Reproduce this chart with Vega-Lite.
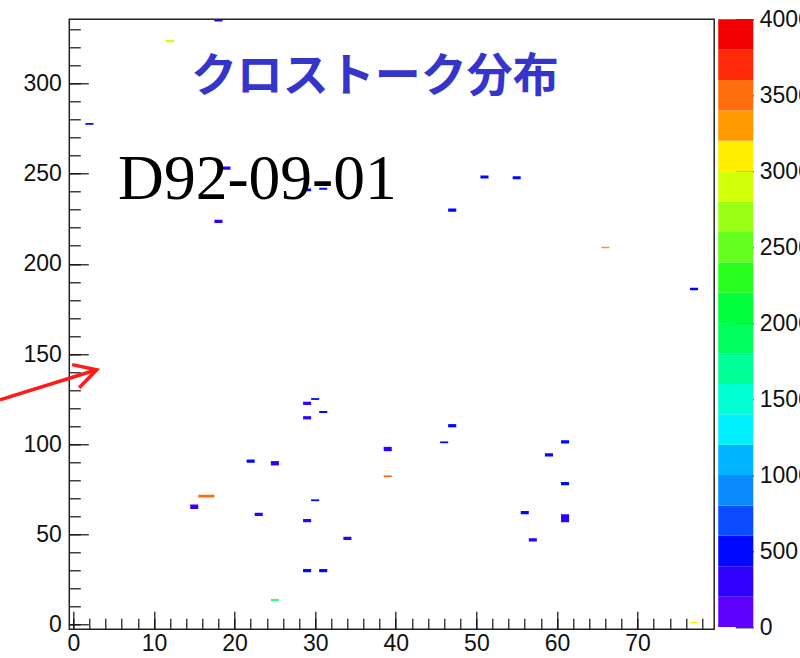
{
  "$schema": "https://vega.github.io/schema/vega-lite/v6.json",
  "autosize": {"type": "none"},
  "padding": {"left": 69.3, "top": 19.3, "right": 47, "bottom": 28.7},
  "width": 684,
  "height": 610,
  "background": "white",
  "config": {
    "view": {"stroke": null},
    "axis": {"labelFont": "Liberation Sans", "labelFontSize": 23, "labelColor": "#111", "tickColor": "#111", "tickWidth": 1.2, "domain": false, "grid": false, "title": null}
  },
  "datasets": {
    "cells": [
      {"x0": 28.5, "x1": 29.5, "y0": 121.8, "y1": 123.6, "v": 300},
      {"x0": 29.5, "x1": 30.5, "y0": 124.6, "y1": 125.6, "v": 450},
      {"x0": 30.5, "x1": 31.5, "y0": 117.4, "y1": 118.4, "v": 450},
      {"x0": 28.5, "x1": 29.5, "y0": 113.8, "y1": 115.6, "v": 300},
      {"x0": 21.5, "x1": 22.5, "y0": 89.8, "y1": 91.6, "v": 450},
      {"x0": 24.5, "x1": 25.5, "y0": 88.3, "y1": 90.7, "v": 300},
      {"x0": 15.5, "x1": 17.5, "y0": 70.5, "y1": 72.0, "v": 3500},
      {"x0": 14.5, "x1": 15.5, "y0": 64.2, "y1": 66.6, "v": 300},
      {"x0": 22.5, "x1": 23.5, "y0": 60.3, "y1": 62.1, "v": 300},
      {"x0": 29.5, "x1": 30.5, "y0": 68.5, "y1": 69.5, "v": 450},
      {"x0": 28.5, "x1": 29.5, "y0": 56.8, "y1": 58.6, "v": 300},
      {"x0": 33.5, "x1": 34.5, "y0": 47.0, "y1": 48.8, "v": 300},
      {"x0": 28.5, "x1": 29.5, "y0": 29.1, "y1": 30.9, "v": 450},
      {"x0": 30.5, "x1": 31.5, "y0": 29.1, "y1": 30.9, "v": 450},
      {"x0": 24.5, "x1": 25.5, "y0": 13.3, "y1": 14.1, "v": 2100},
      {"x0": 38.5, "x1": 39.5, "y0": 96.2, "y1": 98.6, "v": 300},
      {"x0": 38.5, "x1": 39.5, "y0": 81.8, "y1": 82.8, "v": 3400},
      {"x0": 46.5, "x1": 47.5, "y0": 109.4, "y1": 111.2, "v": 450},
      {"x0": 45.5, "x1": 46.5, "y0": 100.6, "y1": 101.6, "v": 450},
      {"x0": 60.5, "x1": 61.5, "y0": 100.5, "y1": 102.3, "v": 450},
      {"x0": 58.5, "x1": 59.5, "y0": 93.3, "y1": 95.1, "v": 450},
      {"x0": 60.5, "x1": 61.5, "y0": 77.3, "y1": 79.1, "v": 450},
      {"x0": 55.5, "x1": 56.5, "y0": 61.2, "y1": 63.0, "v": 450},
      {"x0": 60.5, "x1": 61.5, "y0": 56.8, "y1": 61.2, "v": 300},
      {"x0": 56.5, "x1": 57.5, "y0": 46.1, "y1": 47.9, "v": 300},
      {"x0": 28.5, "x1": 29.5, "y0": 240.2, "y1": 241.8, "v": 450},
      {"x0": 30.5, "x1": 31.5, "y0": 241.1, "y1": 242.1, "v": 450},
      {"x0": 50.5, "x1": 51.5, "y0": 247.3, "y1": 248.9, "v": 450},
      {"x0": 54.5, "x1": 55.5, "y0": 246.9, "y1": 248.5, "v": 450},
      {"x0": 46.5, "x1": 47.5, "y0": 228.9, "y1": 230.7, "v": 450},
      {"x0": 65.5, "x1": 66.5, "y0": 208.7, "y1": 209.5, "v": 3300},
      {"x0": 76.5, "x1": 77.5, "y0": 185.3, "y1": 186.7, "v": 450},
      {"x0": 17.5, "x1": 18.5, "y0": 334.3, "y1": 335.9, "v": 300},
      {"x0": 11.5, "x1": 12.5, "y0": 322.8, "y1": 324.0, "v": 2900},
      {"x0": 1.5, "x1": 2.5, "y0": 277.1, "y1": 278.1, "v": 450},
      {"x0": 18.5, "x1": 19.5, "y0": 252.2, "y1": 254.0, "v": 300},
      {"x0": 17.5, "x1": 18.5, "y0": 222.6, "y1": 224.4, "v": 300},
      {"x0": 76.5, "x1": 77.5, "y0": 0.8, "y1": 1.6, "v": 3100}
    ],
    "palette": [
      {"lo": 0, "hi": 200}, {"lo": 200, "hi": 400}, {"lo": 400, "hi": 600}, {"lo": 600, "hi": 800},
      {"lo": 800, "hi": 1000}, {"lo": 1000, "hi": 1200}, {"lo": 1200, "hi": 1400}, {"lo": 1400, "hi": 1600},
      {"lo": 1600, "hi": 1800}, {"lo": 1800, "hi": 2000}, {"lo": 2000, "hi": 2200}, {"lo": 2200, "hi": 2400},
      {"lo": 2400, "hi": 2600}, {"lo": 2600, "hi": 2800}, {"lo": 2800, "hi": 3000}, {"lo": 3000, "hi": 3200},
      {"lo": 3200, "hi": 3400}, {"lo": 3400, "hi": 3600}, {"lo": 3600, "hi": 3800}, {"lo": 3800, "hi": 4000}
    ]
  },
  "layer": [
    {
      "layer": [
        {
          "data": {"name": "cells"},
          "mark": {"type": "rect", "clip": true},
          "encoding": {
            "x": {"field": "x0", "type": "quantitative", "scale": {"domain": [-0.5, 84.35], "nice": false, "zero": false},
                  "axis": {"orient": "bottom", "values": [0, 10, 20, 30, 40, 50, 60, 70], "tickSize": -18, "labelPadding": 21}},
            "x2": {"field": "x1"},
            "y": {"field": "y0", "type": "quantitative", "scale": {"domain": [-2.5, 335.5], "nice": false, "zero": false},
                  "axis": {"orient": "left", "values": [0, 50, 100, 150, 200, 250, 300], "tickSize": -19, "labelPadding": 27}},
            "y2": {"field": "y1"},
            "color": {"field": "v", "type": "quantitative",
                      "scale": {"type": "quantize", "domain": [0, 4000], "nice": false,
                                "range": ["#6000ff", "#3000ff", "#0008ff", "#0a4cff", "#0a8cff", "#00b4ff", "#00f0ff", "#00ffd2", "#00ff96", "#00ff5a",
                                          "#00ff3c", "#28ff1e", "#64ff1e", "#9aff14", "#d2ff0a", "#ffee00", "#ff9a00", "#ff6e0a", "#ff2a0a", "#f00000"]},
                      "legend": null}
          }
        },
        {
          "data": {"values": [{}]},
          "mark": {"type": "point", "opacity": 0},
          "encoding": {
            "x": {"datum": 0, "type": "quantitative", "scale": {"domain": [-0.5, 84.35], "nice": false, "zero": false},
                  "axis": {"orient": "top", "offset": -610, "labels": false, "tickSize": 11,
                           "values": [0, 2, 4, 6, 8, 10, 12, 14, 16, 18, 20, 22, 24, 26, 28, 30, 32, 34, 36, 38, 40, 42, 44, 46, 48, 50, 52, 54, 56, 58, 60, 62, 64, 66, 68, 70, 72, 74, 76, 78]}},
            "y": {"datum": 0, "type": "quantitative", "scale": {"domain": [-2.5, 335.5], "nice": false, "zero": false},
                  "axis": {"orient": "right", "offset": -684, "labels": false, "tickSize": 11,
                           "values": [0, 10, 20, 30, 40, 50, 60, 70, 80, 90, 100, 110, 120, 130, 140, 150, 160, 170, 180, 190, 200, 210, 220, 230, 240, 250, 260, 270, 280, 290, 300, 310, 320, 330]}}
          }
        },
        {
          "data": {"values": [{}]},
          "mark": {"type": "rect", "filled": false, "stroke": "#222", "strokeWidth": 1.5},
          "encoding": {
            "x": {"datum": -0.5, "type": "quantitative", "scale": {"domain": [-0.5, 84.35], "nice": false, "zero": false}, "axis": null},
            "x2": {"datum": 79.5},
            "y": {"datum": -2.5, "type": "quantitative", "scale": {"domain": [-2.5, 335.5], "nice": false, "zero": false}, "axis": null},
            "y2": {"datum": 335.5}
          }
        },
        {
          "data": {"values": [{}]},
          "mark": {"type": "text", "font": "Noto Sans CJK JP", "fontWeight": "bold", "fontSize": 46, "color": "#3535cc", "align": "center", "baseline": "middle"},
          "encoding": {
            "x": {"datum": 37.4, "type": "quantitative", "scale": {"domain": [-0.5, 84.35], "nice": false, "zero": false}, "axis": null},
            "y": {"datum": 303.5, "type": "quantitative", "scale": {"domain": [-2.5, 335.5], "nice": false, "zero": false}, "axis": null},
            "text": {"value": "クロストーク分布"}
          }
        },
        {
          "data": {"values": [{}]},
          "mark": {"type": "text", "font": "Liberation Serif", "fontSize": 63.5, "color": "#000", "align": "left", "baseline": "alphabetic"},
          "encoding": {
            "x": {"datum": 5.55, "type": "quantitative", "scale": {"domain": [-0.5, 84.35], "nice": false, "zero": false}, "axis": null},
            "y": {"datum": 236.2, "type": "quantitative", "scale": {"domain": [-2.5, 335.5], "nice": false, "zero": false}, "axis": null},
            "text": {"value": "D92-09-01"}
          }
        },
        {
          "data": {"values": [{}]},
          "mark": {"type": "rule", "color": "#ff1a1a", "strokeWidth": 3.5, "clip": false},
          "encoding": {
            "x": {"datum": -9.1, "type": "quantitative", "scale": {"domain": [-0.5, 84.35], "nice": false, "zero": false}, "axis": null},
            "x2": {"datum": 2.9},
            "y": {"datum": 124.6, "type": "quantitative", "scale": {"domain": [-2.5, 335.5], "nice": false, "zero": false}, "axis": null},
            "y2": {"datum": 141.3}
          }
        },
        {
          "data": {"values": [{}]},
          "mark": {"type": "point", "shape": "M-1,-0.55L0,0L-1,0.55", "filled": false, "stroke": "#ff1a1a", "strokeWidth": 3.5, "size": 1936, "angle": 343, "opacity": 1},
          "encoding": {
            "x": {"datum": 2.9, "type": "quantitative", "scale": {"domain": [-0.5, 84.35], "nice": false, "zero": false}, "axis": null},
            "y": {"datum": 141.3, "type": "quantitative", "scale": {"domain": [-2.5, 335.5], "nice": false, "zero": false}, "axis": null}
          }
        }
      ]
    },
    {
      "data": {"name": "palette"},
      "mark": {"type": "rect"},
      "encoding": {
        "x": {"datum": 80.0, "type": "quantitative", "scale": {"domain": [-0.5, 84.35], "nice": false, "zero": false}, "axis": null},
        "x2": {"datum": 84.35},
        "y": {"field": "lo", "type": "quantitative", "scale": {"domain": [-15, 4000], "nice": false, "zero": false},
              "axis": {"orient": "right", "values": [0, 500, 1000, 1500, 2000, 2500, 3000, 3500, 4000], "format": "d", "tickSize": -18, "labelPadding": 24}},
        "y2": {"field": "hi"},
        "color": {"field": "lo", "type": "quantitative",
                  "scale": {"type": "quantize", "domain": [0, 4000], "nice": false,
                            "range": ["#6000ff", "#3000ff", "#0008ff", "#0a4cff", "#0a8cff", "#00b4ff", "#00f0ff", "#00ffd2", "#00ff96", "#00ff5a",
                                      "#00ff3c", "#28ff1e", "#64ff1e", "#9aff14", "#d2ff0a", "#ffee00", "#ff9a00", "#ff6e0a", "#ff2a0a", "#f00000"]},
                  "legend": null}
      }
    }
  ],
  "resolve": {"scale": {"y": "independent"}}
}
